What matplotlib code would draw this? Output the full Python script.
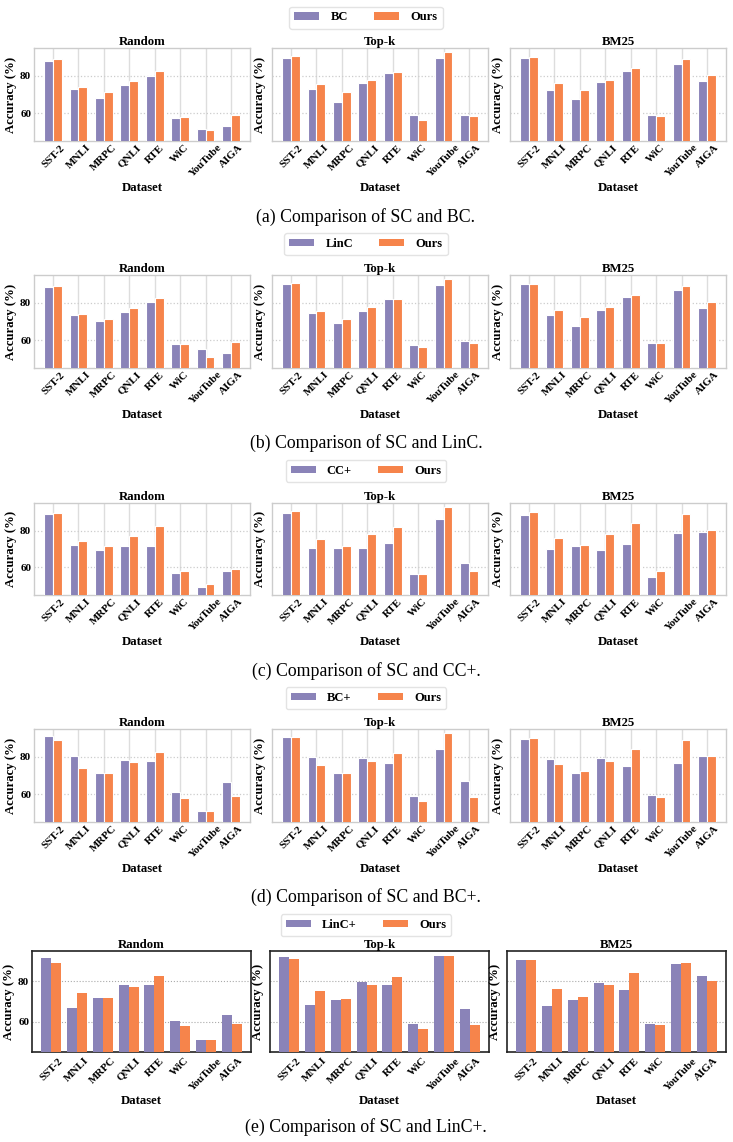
import numpy as np
import matplotlib
matplotlib.use('Agg')
import matplotlib.pyplot as plt
from matplotlib.patches import Patch

plt.rcParams['font.family'] = ['Liberation Serif', 'DejaVu Serif']

# datasets and retrieval settings
datasets = ['SST-2', 'MNLI', 'MRPC', 'QNLI', 'RTE', 'WiC', 'YouTube', 'AIGA']
settings = ['Random', 'Top-k', 'BM25']

# our method (same in every comparison)
ours_random = [89.3, 74.1, 71.6, 77.2, 82.5, 58.0, 51.1, 58.9]
ours_topk = [90.9, 75.4, 71.4, 78.0, 81.9, 56.5, 92.7, 58.2]
ours_bm25 = [90.3, 76.2, 72.2, 78.0, 84.0, 58.2, 88.9, 80.3]

# baselines
bc_random = [87.9, 73.0, 68.3, 74.9, 80.0, 57.1, 51.3, 52.8]
bc_topk = [89.5, 73.1, 65.7, 76.0, 81.4, 58.9, 89.5, 59.0]
bc_bm25 = [89.5, 72.2, 67.4, 76.5, 82.5, 59.2, 86.6, 77.1]

linc_random = [88.6, 73.3, 70.5, 75.1, 80.7, 58.0, 55.3, 53.2]
linc_topk = [89.9, 74.8, 69.2, 75.9, 81.9, 57.3, 89.7, 59.3]
linc_bm25 = [89.9, 73.3, 67.7, 76.4, 83.1, 58.7, 87.2, 77.3]

ccp_random = [88.8, 72.4, 69.2, 71.9, 71.7, 57.1, 49.5, 58.2]
ccp_topk = [89.4, 70.3, 70.6, 70.5, 73.2, 56.5, 86.3, 62.3]
ccp_bm25 = [88.5, 70.1, 71.7, 69.4, 72.8, 54.8, 78.7, 79.1]

bcp_random = [91.4, 80.4, 71.2, 78.4, 77.8, 60.9, 51.1, 66.5]
bcp_topk = [90.9, 80.0, 71.4, 79.3, 76.8, 59.1, 84.5, 67.0]
bcp_bm25 = [89.7, 79.0, 71.5, 79.3, 75.3, 59.5, 76.6, 80.7]

lincp_random = [91.5, 66.9, 71.6, 78.2, 78.2, 60.5, 51.1, 63.4]
lincp_topk = [92.0, 68.4, 70.8, 79.7, 78.2, 59.0, 92.7, 66.4]
lincp_bm25 = [90.3, 67.9, 70.8, 79.2, 75.7, 59.0, 88.5, 82.6]

baseline_names = ['BC', 'LinC', 'CC+', 'BC+', 'LinC+']
baseline_data = [
    [bc_random, bc_topk, bc_bm25],
    [linc_random, linc_topk, linc_bm25],
    [ccp_random, ccp_topk, ccp_bm25],
    [bcp_random, bcp_topk, bcp_bm25],
    [lincp_random, lincp_topk, lincp_bm25],
]
ours_data = [ours_random, ours_topk, ours_bm25]
captions = ['(a) Comparison of SC and BC.', '(b) Comparison of SC and LinC.',
            '(c) Comparison of SC and CC+.', '(d) Comparison of SC and BC+.',
            '(e) Comparison of SC and LinC+.']

purple = '#8a83b8'
orange = '#f6844b'

W, H = 733, 1142
fig = plt.figure(figsize=(W / 100, H / 100), dpi=100)


def add_ax(left, top, w, h):
    return fig.add_axes([left / W, 1 - (top + h) / H, w / W, h / H])


# pixel layout of each row
ax_tops = [48, 275, 503, 729, 951]
ax_h = [93, 93, 92, 93, 101]
legend_y = [17.5, 244, 471, 698, 925]
caption_y = [217, 443, 671, 897, 1127]

x = np.arange(len(datasets))

for r in range(5):
    last = (r == 4)
    if last:
        lefts, aw, bw = [32, 270, 507], 219, 0.39
    else:
        lefts, aw, bw = [34, 272, 510], 216, 0.35
    for c in range(3):
        ax = add_ax(lefts[c], ax_tops[r], aw, ax_h[r])
        if last:
            ax.bar(x - bw / 2, baseline_data[r][c], bw, color=purple, zorder=3)
            ax.bar(x + bw / 2, ours_data[c], bw, color=orange, zorder=3)
            for s in ax.spines.values():
                s.set_color('#222222')
                s.set_linewidth(1.2)
            ax.grid(axis='y', color='#aaaaaa', linestyle=':', linewidth=0.8, zorder=0)
        else:
            ax.bar(x - bw / 2, baseline_data[r][c], bw, color=purple,
                   edgecolor='white', linewidth=0.8, zorder=3)
            ax.bar(x + bw / 2, ours_data[c], bw, color=orange,
                   edgecolor='white', linewidth=0.8, zorder=3)
            for s in ax.spines.values():
                s.set_color('#cccccc')
                s.set_linewidth(1.0)
            ax.grid(axis='x', color='#dddddd', linestyle='-', linewidth=1.0, zorder=0)
            ax.grid(axis='y', color='#cccccc', linestyle=':', linewidth=0.9, zorder=0)
        ax.set_axisbelow(True)
        ax.set_xlim(-0.75, 7.75)
        ax.set_ylim(45, 95)
        ax.set_yticks([60, 80])
        ax.set_xticks(x)
        ax.set_xticklabels(datasets, rotation=45, fontsize=7.9, fontweight='bold')
        ax.tick_params(axis='x', length=0, pad=1.5 if not last else 3)
        ax.tick_params(axis='y', length=0, pad=2, labelsize=8)
        if c == 0:
            for t in ax.get_yticklabels():
                t.set_fontweight('bold')
        else:
            ax.set_yticklabels([])
        ax.set_ylabel('Accuracy (%)', fontsize=9.2, fontweight='bold', labelpad=2)
        ax.set_xlabel('Dataset', fontsize=9.2, fontweight='bold', labelpad=2)
        ax.set_title(settings[c], fontsize=9.2, fontweight='bold', pad=2)

    handles = [Patch(facecolor=purple), Patch(facecolor=orange)]
    fig.legend(handles, [baseline_names[r], 'Ours'], loc='center', ncol=2,
               bbox_to_anchor=(366 / W, 1 - legend_y[r] / H),
               prop={'weight': 'bold', 'size': 9},
               handlelength=2.0, handleheight=0.56, handletextpad=0.9,
               columnspacing=2.1, frameon=True, edgecolor='#dddddd',
               fancybox=True, borderpad=0.4)
    fig.text(366 / W, 1 - caption_y[r] / H, captions[r], ha='center', va='center',
             fontsize=12.8)

fig.savefig('out.png', dpi=100)
